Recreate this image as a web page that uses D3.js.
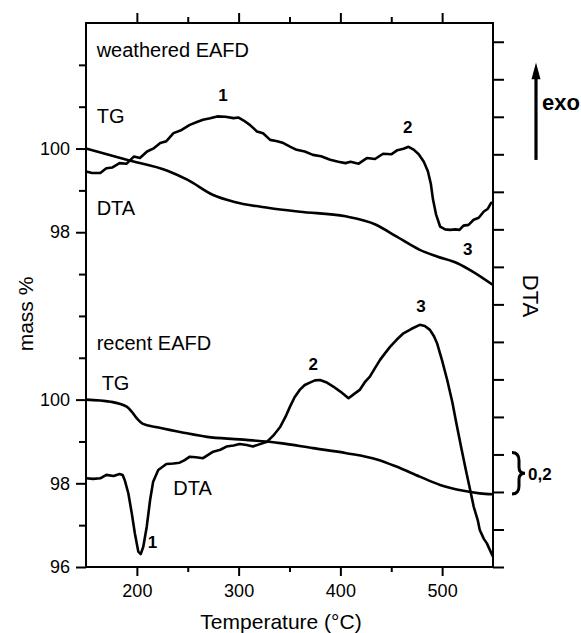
<!DOCTYPE html>
<html>
<head>
<meta charset="utf-8">
<script src="https://cdn.jsdelivr.net/npm/d3@7"></script>
<style>
  body { margin: 0; background: #fff; }
  svg { display: block; font-family: Arial, "Liberation Sans", sans-serif; }
</style>
</head>
<body>
<div id="chart"></div>
<script>
// temperature axis
const tempMajor = [200, 300, 400, 500];
const tempMinor = [250, 350, 450];

// left axis: one continuous mass scale, upper panel shifted by +6 %
const massOffset = 6;
const massTicks = [96, 97, 98, 99, 100, 101, 102, 103, 104, 105, 106, 107, 108];
const massLabelled = [96, 98, 100, 104, 106];
const dtaTicks = [0, 0.2, 0.4, 0.6, 0.8, 1.0, 1.2, 1.4, 1.6, 1.8, 2.0, 2.2, 2.4, 2.6, 2.8];

// weathered EAFD, TG (mass %)
const weatheredTgT = [150, 190, 230, 250, 275, 295, 330, 360, 405, 435, 455, 478, 495, 515, 530, 550];
const weatheredTg = [100.0, 99.73, 99.47, 99.25, 98.89, 98.73, 98.58, 98.49, 98.38, 98.18, 97.90, 97.58, 97.42, 97.26, 97.06, 96.74];

// weathered EAFD, DTA (arbitrary units, 0.2 per tick)
const weatheredDtaT = [150, 156, 164, 170, 176, 183, 190, 197, 203, 210, 216, 223, 229, 236, 244, 252, 259, 265, 272, 279, 287, 295, 300, 305, 311, 318, 324, 331, 338, 344, 351, 357, 365, 373, 381, 390, 398, 405, 410, 418, 426, 434, 442, 450, 456, 462, 467, 472, 477, 482, 486, 489, 491, 494, 498, 503, 508, 513, 517, 521, 526, 531, 536, 541, 545, 548, 550];
const weatheredDta = [2.108, 2.100, 2.100, 2.126, 2.130, 2.153, 2.150, 2.188, 2.180, 2.215, 2.230, 2.260, 2.270, 2.313, 2.330, 2.357, 2.372, 2.384, 2.392, 2.402, 2.400, 2.393, 2.396, 2.380, 2.357, 2.322, 2.312, 2.277, 2.270, 2.260, 2.240, 2.224, 2.215, 2.197, 2.190, 2.171, 2.160, 2.153, 2.160, 2.150, 2.180, 2.175, 2.203, 2.200, 2.222, 2.230, 2.240, 2.225, 2.200, 2.160, 2.110, 2.040, 1.960, 1.880, 1.815, 1.800, 1.797, 1.800, 1.797, 1.820, 1.824, 1.851, 1.862, 1.895, 1.910, 1.940, 1.943];

// recent EAFD, TG (mass %)
const recentTgT = [150, 174, 190, 195, 200, 206, 220, 246, 269, 301, 341, 373, 406, 436, 455, 478, 498, 521, 537, 550];
const recentTg = [100.0, 99.95, 99.83, 99.71, 99.55, 99.42, 99.34, 99.21, 99.11, 99.05, 98.96, 98.84, 98.72, 98.57, 98.40, 98.16, 97.96, 97.82, 97.76, 97.74];

// recent EAFD, DTA (arbitrary units, 0.2 per tick)
const recentDtaT = [150, 157, 164, 170, 177, 183, 186, 188, 191.6, 195, 198, 201.4, 203.8, 206.3, 209.7, 213, 216, 221, 229, 236, 242, 247, 252, 258, 265, 270, 275, 282, 288, 295, 301, 308, 314, 321, 328, 334, 341, 346, 350.5, 355, 360, 365, 370, 375, 380, 386, 393, 400, 408, 413, 419, 424, 429, 434, 439, 444, 449, 455, 462, 470, 478, 483, 488, 492, 495, 500, 505, 510, 514, 519, 524, 528, 531, 535, 537, 541, 544, 547, 550];
const recentDta = [0.473, 0.470, 0.473, 0.491, 0.485, 0.496, 0.490, 0.464, 0.393, 0.286, 0.180, 0.082, 0.069, 0.108, 0.215, 0.357, 0.455, 0.517, 0.549, 0.552, 0.556, 0.570, 0.588, 0.585, 0.580, 0.598, 0.615, 0.625, 0.642, 0.648, 0.656, 0.650, 0.642, 0.655, 0.668, 0.700, 0.748, 0.800, 0.855, 0.905, 0.944, 0.970, 0.983, 0.995, 0.997, 0.985, 0.962, 0.935, 0.900, 0.920, 0.944, 0.985, 1.015, 1.060, 1.104, 1.140, 1.175, 1.210, 1.246, 1.270, 1.291, 1.285, 1.264, 1.230, 1.193, 1.100, 0.997, 0.880, 0.766, 0.630, 0.500, 0.400, 0.322, 0.250, 0.197, 0.150, 0.126, 0.090, 0.055];

// annotations: [text, temperature, mass-axis position, bold]
const notes = [
  ["weathered EAFD", 160.5, 108.19, false],
  ["TG", 160.5, 106.62, false],
  ["DTA", 160.5, 104.41, false],
  ["recent EAFD", 160.5, 101.19, false],
  ["TG", 165.4, 100.23, false],
  ["DTA", 235.8, 97.72, false]
];
const peaks = [
  ["1", 284.6, 107.14],
  ["2", 466.2, 106.38],
  ["3", 525.1, 103.46],
  ["1", 215.4, 96.45],
  ["2", 373.4, 100.71],
  ["3", 479.2, 102.10]
];

const width = 581;
const height = 633;
const margin = {top: 23, right: 88, bottom: 66, left: 86};

const x = d3.scaleLinear()
    .domain([150, 550])
    .range([margin.left, width - margin.right]);

const yMass = d3.scaleLinear()
    .domain([96, 109])
    .range([height - margin.bottom, margin.top]);

const yDta = d3.scaleLinear()
    .domain([0, 2.9])
    .range([height - margin.bottom, margin.top]);

const svg = d3.select("#chart").append("svg")
    .attr("width", width)
    .attr("height", height)
    .attr("viewBox", [0, 0, width, height]);

const x0 = margin.left, x1 = width - margin.right;
const y0 = margin.top, y1 = height - margin.bottom;

function styleAxis(g) {
    g.select(".domain").remove();
    g.selectAll("line").attr("stroke", "#000").attr("stroke-width", 2);
    g.selectAll("text").attr("fill", "#000").attr("font-size", 18)
        .attr("font-family", "Arial, 'Liberation Sans', sans-serif");
}

// bottom axis
svg.append("g")
    .attr("transform", `translate(0,${y1})`)
    .call(d3.axisBottom(x).tickValues(tempMajor).tickSize(9).tickPadding(8).tickFormat(d3.format("d")))
    .call(styleAxis);
svg.append("g")
    .attr("transform", `translate(0,${y1})`)
    .call(d3.axisBottom(x).tickValues(tempMinor).tickSize(5).tickFormat(""))
    .call(styleAxis);

// top axis
svg.append("g")
    .attr("transform", `translate(0,${y0})`)
    .call(d3.axisTop(x).tickValues(tempMajor).tickSize(10).tickFormat(""))
    .call(styleAxis);
svg.append("g")
    .attr("transform", `translate(0,${y0})`)
    .call(d3.axisTop(x).tickValues(tempMinor).tickSize(6).tickFormat(""))
    .call(styleAxis);

// left axis
svg.append("g")
    .attr("transform", `translate(${x0},0)`)
    .call(d3.axisLeft(yMass).tickValues(massLabelled).tickSize(10).tickPadding(6)
        .tickFormat(d => d > 102 ? d - massOffset : d))
    .call(styleAxis);
svg.append("g")
    .attr("transform", `translate(${x0},0)`)
    .call(d3.axisLeft(yMass).tickValues(massTicks.filter(d => !massLabelled.includes(d))).tickSize(7).tickFormat(""))
    .call(styleAxis);

// right axis
svg.append("g")
    .attr("transform", `translate(${x1},0)`)
    .call(d3.axisRight(yDta).tickValues(dtaTicks).tickSize(11).tickFormat(""))
    .call(styleAxis);

// frame
svg.append("rect")
    .attr("x", x0).attr("y", y0)
    .attr("width", x1 - x0).attr("height", y1 - y0)
    .attr("fill", "none").attr("stroke", "#000").attr("stroke-width", 2);

// curves
const curves = svg.append("g")
    .attr("fill", "none")
    .attr("stroke", "#000")
    .attr("stroke-width", 2.6)
    .attr("stroke-linejoin", "round");

const massLine = (off) => d3.line()
    .x(d => x(d[0]))
    .y(d => yMass(d[1] + off))
    .curve(d3.curveMonotoneX);

const dtaLine = d3.line()
    .x(d => x(d[0]))
    .y(d => yDta(d[1]))
    .curve(d3.curveLinear);

curves.append("path").attr("d", massLine(massOffset)(d3.zip(weatheredTgT, weatheredTg)));
curves.append("path").attr("d", dtaLine(d3.zip(weatheredDtaT, weatheredDta)));
curves.append("path").attr("d", massLine(0)(d3.zip(recentTgT, recentTg)));
curves.append("path").attr("d", dtaLine(d3.zip(recentDtaT, recentDta)));

// labels inside the plot
svg.append("g")
    .selectAll("text")
    .data(notes)
    .join("text")
    .attr("x", d => x(d[1]))
    .attr("y", d => yMass(d[2]))
    .attr("font-size", 20)
    .text(d => d[0]);

svg.append("g")
    .selectAll("text")
    .data(peaks)
    .join("text")
    .attr("x", d => x(d[1]))
    .attr("y", d => yMass(d[2]))
    .attr("text-anchor", "middle")
    .attr("font-size", 17)
    .attr("font-weight", "bold")
    .text(d => d[0]);

// axis titles
svg.append("text")
    .attr("transform", `translate(33,314) rotate(-90)`)
    .attr("text-anchor", "middle")
    .attr("font-size", 21)
    .text("mass %");

svg.append("text")
    .attr("x", 281)
    .attr("y", 629)
    .attr("text-anchor", "middle")
    .attr("font-size", 21)
    .text("Temperature (°C)");

svg.append("text")
    .attr("transform", `translate(${x1 + 30},296) rotate(90)`)
    .attr("text-anchor", "middle")
    .attr("font-size", 22)
    .text("DTA");

// exo arrow
const ax = x1 + 43;
svg.append("line")
    .attr("x1", ax).attr("x2", ax)
    .attr("y1", yDta(2.17)).attr("y2", yDta(2.62))
    .attr("stroke", "#000").attr("stroke-width", 3.2);
svg.append("path")
    .attr("d", `M${ax},${yDta(2.69)} L${ax - 4.5},${yDta(2.6)} L${ax + 4.5},${yDta(2.6)} Z`)
    .attr("fill", "#000");
svg.append("text")
    .attr("x", ax + 6)
    .attr("y", 110)
    .attr("font-size", 22)
    .attr("font-weight", "bold")
    .text("exo");

// scale brace: one tick step = 0,2
const bt = yDta(0.6) - 2, bb = yDta(0.4) + 2, bm = (bt + bb) / 2;
const bx = x1 + 19;
svg.append("path")
    .attr("d", `M${bx},${bt} Q${bx + 7},${bt} ${bx + 7},${bt + 8} L${bx + 7},${bm - 6} Q${bx + 7},${bm} ${bx + 13},${bm} Q${bx + 7},${bm} ${bx + 7},${bm + 6} L${bx + 7},${bb - 8} Q${bx + 7},${bb} ${bx},${bb}`)
    .attr("fill", "none").attr("stroke", "#000").attr("stroke-width", 3);
svg.append("text")
    .attr("x", bx + 16)
    .attr("y", bm + 7)
    .attr("font-size", 17)
    .attr("font-weight", "bold")
    .text("0,2");
</script>
</body>
</html>
